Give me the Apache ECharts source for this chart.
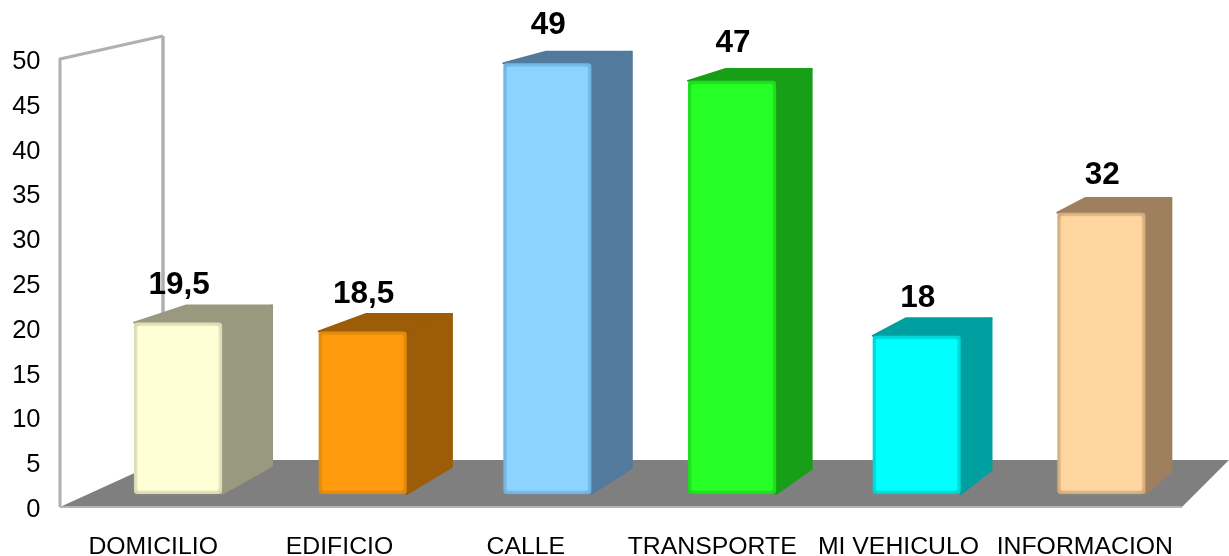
<!DOCTYPE html>
<html><head><meta charset="utf-8">
<style>html,body{margin:0;padding:0;background:#fff}#c{width:1229px;height:556px}</style>
<script src="https://cdn.jsdelivr.net/npm/echarts@6/dist/echarts.min.js"></script>
</head><body><div id="c"></div>
<script>
const categories = ['DOMICILIO','EDIFICIO','CALLE','TRANSPORTE','MI VEHICULO','INFORMACION'];
const values = [19.5, 18.5, 49, 47, 18, 32];
const yTicks = [0,5,10,15,20,25,30,35,40,45,50];
const frontColors = ['#FFFFD6','#FF9A0E','#8CD3FF','#26FF26','#00FFFF','#FFD69F'];
const edgeColors  = ['#D8D8B0','#D98A10','#6FB0E0','#1CD81C','#00D0D0','#D0A878'];
const sideColors  = ['#99997F','#9C5C08','#527A9C','#179F17','#009F9F','#9E7F5E'];

const FONT = '"Liberation Sans", Arial, sans-serif';
const BAR_W = 88;
const depthX = x => 50 - 0.026 * (x - 222);
const depthTop = y => 11.5 + (y - 63) * 0.022;
const depthBottom = x => 28 - 0.0054 * (x - 222);

function renderBar(params, api) {
  const i = api.value(0), v = api.value(1);
  const top = api.coord([i, v]), base = api.coord([i, 0]);
  const l = top[0] - BAR_W / 2, r = top[0] + BAR_W / 2, t = top[1], b = base[1];
  const dt = depthTop(t), db = depthBottom(r);
  const lx = l + depthX(l), rx = r + depthX(r);
  const side = sideColors[i];
  const faceStyle = {fill: side, stroke: side, lineWidth: 2, lineJoin: 'round'};
  return {type: 'group', children: [
    {type: 'polygon', shape: {points: [[l, t], [lx, t - dt], [rx, t - dt], [r, t]]}, style: faceStyle},
    {type: 'polygon', shape: {points: [[r, t], [rx, t - dt], [rx, b - db], [r, b]]}, style: faceStyle},
    {type: 'rect', shape: {x: l, y: t, width: BAR_W, height: b - t, r: 3}, style: {fill: edgeColors[i]}},
    {type: 'rect', shape: {x: l + 3.5, y: t + 3.5, width: BAR_W - 7, height: b - t - 7, r: 1},
      style: {fill: frontColors[i], shadowBlur: 5, shadowColor: frontColors[i]}},
    {type: 'text', x: top[0] + 1, y: t - 37.5, style: {
      text: String(v).replace('.', ','), font: 'bold 31.5px ' + FONT, fill: '#000',
      align: 'center', verticalAlign: 'middle'}}
  ]};
}

const chart = echarts.init(document.getElementById('c'), null, {renderer: 'canvas'});
chart.setOption({
  animation: false,
  backgroundColor: '#fff',
  grid: [
    {left: 60, width: 1118, top: 62, height: 448, outerBoundsMode: 'none'},
    {left: 85.7, width: 1108, top: 54.5, height: 439.5, outerBoundsMode: 'none'}
  ],
  xAxis: [
    {type: 'category', gridIndex: 0, data: categories,
     axisLine: {show: false}, axisTick: {show: false},
     axisLabel: {interval: 0, color: '#000', fontFamily: FONT, fontSize: 24.8, margin: 24.5}},
    {type: 'category', gridIndex: 1, data: categories, show: false}
  ],
  yAxis: [
    {type: 'value', gridIndex: 0, min: yTicks[0], max: yTicks[yTicks.length - 1], interval: 5,
     axisLine: {show: false}, axisTick: {show: false}, splitLine: {show: false},
     axisLabel: {color: '#000', fontFamily: FONT, fontSize: 25.5, margin: 19.5}},
    {type: 'value', gridIndex: 1, min: 0, max: 50, show: false, splitLine: {show: false}}
  ],
  graphic: {elements: [
    {type: 'polygon', z: 0, shape: {points: [[60, 507], [1182, 507], [1229, 460], [163, 460]]},
     style: {fill: '#7F7F7F'}},
    {type: 'polyline', z: 1, shape: {points: [[60, 507], [1182, 507]]},
     style: {stroke: '#B4B4B4', lineWidth: 2, fill: null}},
    {type: 'polyline', z: 1, shape: {points: [[60, 507], [60, 59], [163, 36]]},
     style: {stroke: '#B0B0B0', lineWidth: 3, fill: null}},
    {type: 'polyline', z: 1, shape: {points: [[163, 36], [163, 460]]},
     style: {stroke: '#B0B0B0', lineWidth: 3.5, fill: null}}
  ]},
  series: [{
    type: 'custom', xAxisIndex: 1, yAxisIndex: 1, z: 5,
    data: values.map((v, i) => [i, v]),
    encode: {x: 0, y: 1},
    renderItem: renderBar,
    clip: false
  }]
});
</script></body></html>
